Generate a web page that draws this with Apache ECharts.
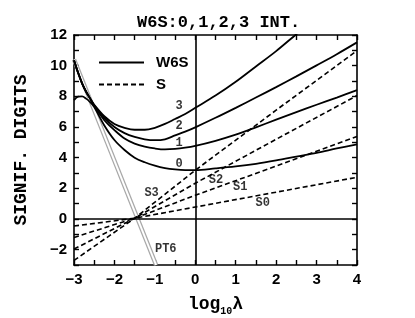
<!DOCTYPE html>
<html>
<head>
<meta charset="utf-8">
<script src="https://cdn.jsdelivr.net/npm/echarts@6/dist/echarts.min.js"></script>
<style>html,body{margin:0;padding:0;background:#fff}#c{width:415px;height:318px}</style>
</head>
<body>
<div id="c"></div>
<script>
// ---- data ----
const xW = [-3,-2.9,-2.8,-2.7,-2.6,-2.5,-2.25,-2,-1.75,-1.5,-1.25,-1,-0.75,-0.5,-0.25,0,0.5,1,1.5,2,2.5,3,3.5,4];
const w6s3 = [10.35,9.55,8.85,8.3,7.85,7.45,6.7,6.2,5.95,5.82,5.82,5.95,6.2,6.52,6.85,7.25,8.05,8.95,9.95,10.95,12.05,13.1,null,null];
const w6s2 = [10.35,9.55,8.85,8.3,7.85,7.42,6.6,6.0,5.6,5.35,5.2,5.14,5.2,5.45,5.7,5.98,6.6,7.25,7.92,8.6,9.3,10.02,10.75,11.52];
const w6s1 = [10.35,9.55,8.85,8.3,7.85,7.38,6.45,5.8,5.25,4.92,4.72,4.6,4.54,4.57,4.65,4.77,5.1,5.5,5.98,6.48,6.97,7.45,7.92,8.4];
const w6s0 = [7.75,7.98,8.0,7.85,7.62,7.3,6.1,5.15,4.5,4.0,3.7,3.48,3.32,3.23,3.19,3.19,3.3,3.43,3.6,3.82,4.07,4.32,4.6,4.87];

const xS = [-3,-1.5,0,2,4];
const s0 = [-0.46,0.05,0.78,1.75,2.72];
const s1 = [-1.2,0.05,1.55,3.45,5.38];
const s2 = [-1.96,0.05,2.33,5.2,8.05];
const s3 = [-2.7,0.05,3.18,7.1,10.98];

const xPT6 = [-3,-0.97];
const pt6 = [10.4,-3];

const xTicks = [-3,-2,-1,0,1,2,3,4];
const yTicks = [-2,0,2,4,6,8,10,12];

// annotation texts and where they sit (data coords)
const notes = [
  ['3',-0.4,7.35],['2',-0.4,6.08],['1',-0.4,4.98],['0',-0.4,3.58],
  ['S3',-1.08,1.67],['S2',0.51,2.54],['S1',1.11,2.07],['S0',1.67,1.06],['PT6',-0.73,-1.98]
];

const zip = (xs, ys) => xs.map((x,i) => [x, ys[i]]);
const fmt = v => String(v).replace('-', '\u2212');

const mono = '"Liberation Mono", "DejaVu Sans Mono", monospace';
const sans = '"Liberation Sans", Arial, sans-serif';

const solid = {color:'#000', width:1.8, type:'solid'};
const dash = {color:'#000', width:1.6, type:[5,3]};

function lineSeries(name, data, ls, extra) {
  return Object.assign({
    name, type:'line', data, symbol:'none', showSymbol:false,
    lineStyle: ls, itemStyle:{color:'#000'}, smooth: name==='W6S' ? 0.35 : false,
    z: 3, silent:true
  }, extra||{});
}

const axisCommon = {
  type:'value',
  axisLine:{show:true, onZero:false, lineStyle:{color:'#000', width:1.6}},
  axisTick:{show:true, inside:true, length:5, lineStyle:{color:'#000', width:1.4}},
  splitLine:{show:false}
};

const option = {
  animation:false,
  backgroundColor:'#fff',
  title:{
    text:'W6S:0,1,2,3 INT.', left:132, top:9,
    textStyle:{fontFamily:mono, fontWeight:'bold', fontSize:17, color:'#000'}
  },
  legend:{
    data:['W6S','S'], orient:'vertical', left:93, top:50,
    itemWidth:45, itemHeight:14, itemGap:7,
    itemStyle:{opacity:0},
    textStyle:{fontFamily:sans, fontWeight:'bold', fontSize:15, color:'#000', padding:[0,0,0,7]}
  },
  grid:{left:74, right:58, top:35, bottom:53, containLabel:false, outerBoundsMode:'none'},
  xAxis:[
    Object.assign({}, axisCommon, {
      min:-3, max:4, interval:0.5, position:'bottom',
      axisLabel:{margin:7, color:'#000', fontFamily:sans, fontWeight:'bold', fontSize:15,
        formatter: v => xTicks.includes(v) ? fmt(v) : ''},
      name:'{a|log}{b|10}{a|λ}', nameLocation:'middle', nameGap:30,
      nameTextStyle:{rich:{
        a:{fontFamily:mono, fontWeight:'bold', fontSize:18, color:'#000', verticalAlign:'bottom'},
        b:{fontFamily:mono, fontWeight:'bold', fontSize:10, color:'#000', verticalAlign:'bottom', padding:[0,0,-3,0]}
      }}
    }),
    Object.assign({}, axisCommon, {
      min:-3, max:4, interval:0.5, position:'top', axisLabel:{show:false}
    })
  ],
  yAxis:[
    Object.assign({}, axisCommon, {
      min:-3, max:12, interval:1, position:'left',
      axisLabel:{margin:7, color:'#000', fontFamily:sans, fontWeight:'bold', fontSize:15,
        formatter: v => yTicks.includes(v) ? fmt(v) : ''},
      name:'SIGNIF. DIGITS', nameLocation:'middle', nameGap:44, nameRotate:90,
      nameTextStyle:{fontFamily:mono, fontWeight:'bold', fontSize:18, color:'#000'}
    }),
    Object.assign({}, axisCommon, {
      min:-3, max:12, interval:1, position:'right', axisLabel:{show:false}
    })
  ],
  series:[
    lineSeries('PT6', zip(xPT6, pt6), {color:'#a8a8a8', width:4.5}, {z:2}),
    lineSeries('PT6', zip(xPT6, pt6), {color:'#fff', width:2}, {z:2,
      markLine:{silent:true, symbol:['none','none'], label:{show:false},
        lineStyle:{color:'#000', width:1.6, type:'solid'},
        data:[{xAxis:0},{yAxis:0}]}}),
    lineSeries('W6S', zip(xW, w6s3), solid),
    lineSeries('W6S', zip(xW, w6s2), solid),
    lineSeries('W6S', zip(xW, w6s1), solid),
    lineSeries('W6S', zip(xW, w6s0), solid),
    lineSeries('S', zip(xS, s0), dash),
    lineSeries('S', zip(xS, s1), dash),
    lineSeries('S', zip(xS, s2), dash),
    lineSeries('S', zip(xS, s3), dash),
    {
      name:'notes', type:'scatter', symbolSize:0, silent:true, z:5,
      data: notes.map(n => ({name:n[0], value:[n[1], n[2]]})),
      label:{show:true, position:'inside', formatter:'{b}', color:'#000',
        fontFamily:mono, fontWeight:'bold', fontSize:12}
    }
  ]
};

const chart = echarts.init(document.getElementById('c'), null, {renderer:'canvas'});
chart.setOption(option);
</script>
</body>
</html>
